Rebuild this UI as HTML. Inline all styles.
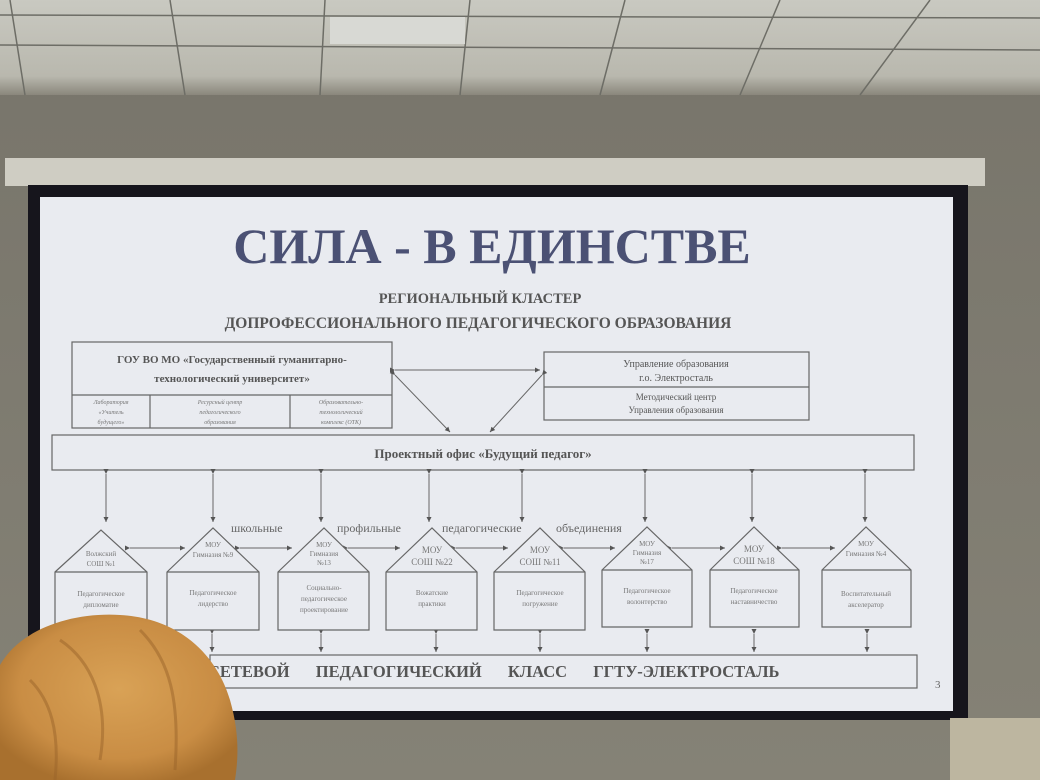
<!DOCTYPE html>
<html><head><meta charset="utf-8"><style>
html,body{margin:0;padding:0;width:1040px;height:780px;overflow:hidden;background:#7c796e}
svg{display:block}
text{font-family:"Liberation Serif",serif}
</style></head><body>
<svg width="1040" height="780" viewBox="0 0 1040 780" xmlns="http://www.w3.org/2000/svg">
<defs>
<linearGradient id="ceil" x1="0" y1="0" x2="0" y2="1"><stop offset="0" stop-color="#c9c9c1"/><stop offset="0.8" stop-color="#b9b8ae"/><stop offset="1" stop-color="#8a877c"/></linearGradient>
<linearGradient id="wall" x1="0" y1="0" x2="0" y2="1"><stop offset="0" stop-color="#77746a"/><stop offset="1" stop-color="#858276"/></linearGradient>
<radialGradient id="hair" cx="0.5" cy="0.45" r="0.6"><stop offset="0" stop-color="#d9a256"/><stop offset="0.7" stop-color="#c98d44"/><stop offset="1" stop-color="#a8702e"/></radialGradient>
<marker id="a" markerWidth="6" markerHeight="6" refX="5" refY="3" orient="auto"><path d="M0,0.5 L5,3 L0,5.5z" fill="#555"/></marker>
</defs>
<rect width="1040" height="780" fill="url(#wall)"/>
<rect width="1040" height="95" fill="url(#ceil)"/>
<g stroke="#6d6d66" stroke-width="1.5" fill="none">
<path d="M0,15 L1040,18"/><path d="M0,45 L1040,50"/>
<path d="M10,0 L25,95"/><path d="M170,0 L185,95"/><path d="M325,0 L320,95"/><path d="M470,0 L460,95"/><path d="M625,0 L600,95"/><path d="M780,0 L740,95"/><path d="M930,0 L860,95"/>
</g>
<rect x="330" y="17" width="135" height="27" fill="#d8d9d4"/>
<rect x="5" y="158" width="980" height="28" fill="#cfcdc3"/>
<rect x="28" y="185" width="940" height="535" fill="#16151c"/>
<rect x="40" y="197" width="913" height="514" fill="#e9ebf0"/>
<rect x="950" y="718" width="90" height="62" fill="#bdb6a0"/>
<text x="492" y="263" font-size="50" font-weight="bold" fill="#4b5174" text-anchor="middle">СИЛА - В ЕДИНСТВЕ</text>
<text x="480" y="303" font-size="14.5" font-weight="bold" fill="#555" text-anchor="middle">РЕГИОНАЛЬНЫЙ КЛАСТЕР</text>
<text x="478" y="328" font-size="15.5" font-weight="bold" fill="#555" text-anchor="middle">ДОПРОФЕССИОНАЛЬНОГО ПЕДАГОГИЧЕСКОГО ОБРАЗОВАНИЯ</text>
<g stroke="#666" stroke-width="1.2" fill="none">
<rect x="72" y="342" width="320" height="86"/><line x1="72" y1="395" x2="392" y2="395"/>
<line x1="150" y1="395" x2="150" y2="428"/><line x1="290" y1="395" x2="290" y2="428"/>
<rect x="544" y="352" width="265" height="68"/><line x1="544" y1="387" x2="809" y2="387"/>
<rect x="52" y="435" width="862" height="35"/>
<rect x="210" y="655" width="707" height="33"/>
</g>
<g font-size="11" fill="#555" text-anchor="middle">
<text x="232" y="363" font-weight="bold">ГОУ ВО МО «Государственный гуманитарно-</text>
<text x="232" y="382" font-weight="bold">технологический университет»</text>
<text x="676" y="367" font-size="10">Управление образования</text>
<text x="676" y="381" font-size="10">г.о. Электросталь</text>
<text x="676" y="400" font-size="9">Методический центр</text>
<text x="676" y="413" font-size="9">Управления образования</text>
<text x="483" y="458" font-size="13" font-weight="bold">Проектный офис «Будущий педагог»</text>
</g>
<g font-size="6" fill="#777" text-anchor="middle" font-style="italic">
<text x="111" y="404">Лаборатория</text><text x="111" y="414">«Учитель</text><text x="111" y="424">будущего»</text>
<text x="220" y="404">Ресурсный центр</text><text x="220" y="414">педагогического</text><text x="220" y="424">образования</text>
<text x="341" y="404">Образовательно-</text><text x="341" y="414">технологический</text><text x="341" y="424">комплекс (ОТК)</text>
</g>
<g stroke="#666" stroke-width="1" fill="none" marker-end="url(#a)" marker-start="url(#a)">
<line x1="395" y1="370" x2="540" y2="370"/>
<line x1="395" y1="375" x2="450" y2="432"/>
<line x1="542" y1="375" x2="490" y2="432"/>
</g>
<g stroke="#666" stroke-width="1" fill="none">
<g marker-end="url(#a)" marker-start="url(#a)">
<line x1="106" y1="474" x2="106" y2="522"/><line x1="213" y1="474" x2="213" y2="522"/><line x1="321" y1="474" x2="321" y2="522"/><line x1="429" y1="474" x2="429" y2="522"/>
<line x1="522" y1="474" x2="522" y2="522"/><line x1="645" y1="474" x2="645" y2="522"/><line x1="752" y1="474" x2="752" y2="522"/><line x1="865" y1="474" x2="865" y2="522"/>
<line x1="212" y1="634" x2="212" y2="652"/><line x1="321" y1="634" x2="321" y2="652"/><line x1="436" y1="634" x2="436" y2="652"/><line x1="540" y1="634" x2="540" y2="652"/>
<line x1="647" y1="634" x2="647" y2="652"/><line x1="754" y1="634" x2="754" y2="652"/><line x1="867" y1="634" x2="867" y2="652"/>
<line x1="130" y1="548" x2="185" y2="548"/><line x1="240" y1="548" x2="292" y2="548"/><line x1="348" y1="548" x2="400" y2="548"/><line x1="456" y1="548" x2="508" y2="548"/>
<line x1="564" y1="548" x2="615" y2="548"/><line x1="672" y1="548" x2="725" y2="548"/><line x1="782" y1="548" x2="835" y2="548"/>
</g>
</g>
<g font-size="12" fill="#666">
<text x="231" y="532">школьные</text><text x="337" y="532">профильные</text><text x="442" y="532">педагогические</text><text x="556" y="532">объединения</text>
</g>
<g stroke="#666" stroke-width="1.2" fill="#e9ebf0">
<path d="M55,572 L101,530 L147,572 L147,632 L55,632 Z"/><line x1="55" y1="572" x2="147" y2="572"/>
<path d="M167,572 L213,528 L259,572 L259,630 L167,630 Z"/><line x1="167" y1="572" x2="259" y2="572"/>
<path d="M278,572 L324,528 L369,572 L369,630 L278,630 Z"/><line x1="278" y1="572" x2="369" y2="572"/>
<path d="M386,572 L432,528 L477,572 L477,630 L386,630 Z"/><line x1="386" y1="572" x2="477" y2="572"/>
<path d="M494,572 L540,528 L585,572 L585,630 L494,630 Z"/><line x1="494" y1="572" x2="585" y2="572"/>
<path d="M602,570 L647,527 L692,570 L692,627 L602,627 Z"/><line x1="602" y1="570" x2="692" y2="570"/>
<path d="M710,570 L754,527 L799,570 L799,627 L710,627 Z"/><line x1="710" y1="570" x2="799" y2="570"/>
<path d="M822,570 L866,527 L911,570 L911,627 L822,627 Z"/><line x1="822" y1="570" x2="911" y2="570"/>
</g>
<g font-size="7" fill="#777" text-anchor="middle">
<text x="101" y="556">Волжский</text><text x="101" y="566">СОШ №1</text>
<text x="213" y="547">МОУ</text><text x="213" y="557">Гимназия №9</text>
<text x="324" y="547">МОУ</text><text x="324" y="556">Гимназия</text><text x="324" y="565">№13</text>
<text x="432" y="553" font-size="9">МОУ</text><text x="432" y="565" font-size="9">СОШ №22</text>
<text x="540" y="553" font-size="9">МОУ</text><text x="540" y="565" font-size="9">СОШ №11</text>
<text x="647" y="546">МОУ</text><text x="647" y="555">Гимназия</text><text x="647" y="564">№17</text>
<text x="754" y="552" font-size="9">МОУ</text><text x="754" y="564" font-size="9">СОШ №18</text>
<text x="866" y="546">МОУ</text><text x="866" y="556">Гимназия №4</text>
<text x="101" y="596">Педагогическое</text><text x="101" y="607">дипломатие</text>
<text x="213" y="595">Педагогическое</text><text x="213" y="606">лидерство</text>
<text x="324" y="590">Социально-</text><text x="324" y="601">педагогическое</text><text x="324" y="612">проектирование</text>
<text x="432" y="595">Вожатские</text><text x="432" y="606">практики</text>
<text x="540" y="595">Педагогическое</text><text x="540" y="606">погружение</text>
<text x="647" y="593">Педагогическое</text><text x="647" y="604">волонтерство</text>
<text x="754" y="593">Педагогическое</text><text x="754" y="604">наставничество</text>
<text x="866" y="596">Воспитательный</text><text x="866" y="607">акселератор</text>
</g>
<text x="208" y="677" font-size="16.5" font-weight="bold" fill="#555" word-spacing="22">СЕТЕВОЙ ПЕДАГОГИЧЕСКИЙ КЛАСС ГГТУ-ЭЛЕКТРОСТАЛЬ</text>
<text x="935" y="688" font-size="11" fill="#666">3</text>
<path d="M0,665 C20,630 70,612 120,615 C175,618 215,650 230,700 C240,735 238,760 235,780 L0,780 Z" fill="url(#hair)"/>
<path d="M60,640 C90,660 110,700 100,760 M140,630 C170,660 180,700 175,770 M30,680 C50,700 60,730 55,780" stroke="#9a642a" stroke-width="3" fill="none" opacity="0.5"/>
</svg>
</body></html>
